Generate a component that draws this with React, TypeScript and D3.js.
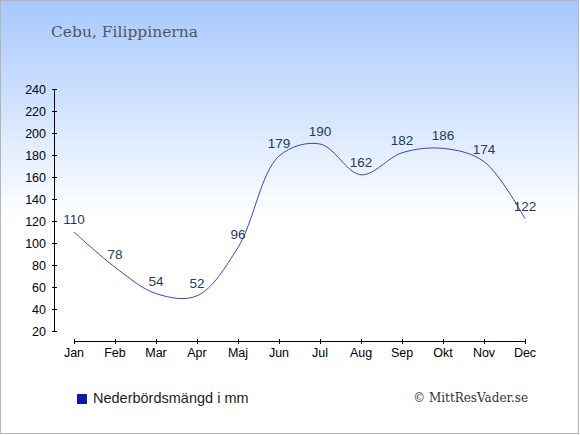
import React from "react";
import * as d3 from "d3";

const months = ["Jan", "Feb", "Mar", "Apr", "Maj", "Jun", "Jul", "Aug", "Sep", "Okt", "Nov", "Dec"];
const rainfall = [110, 78, 54, 52, 96, 179, 190, 162, 182, 186, 174, 122];
const yTicks = [20, 40, 60, 80, 100, 120, 140, 160, 180, 200, 220, 240];
const title = "Cebu, Filippinerna";
const legendLabel = "Nederbördsmängd i mm";
const credit = "© MittResVader.se";

const W = 580;
const H = 435;

export default function App() {
  const x = d3.scalePoint<string>().domain(months).range([74, 525]);
  const y = d3.scaleLinear().domain([20, 240]).range([331, 89]);
  const line = d3
    .line<number>()
    .x((_, i) => x(months[i]) as number)
    .y((d) => y(d))
    .curve(d3.curveCatmullRom.alpha(0.5));
  const sans = "'Liberation Sans', Arial, sans-serif";
  const serif = "'DejaVu Serif', 'Liberation Serif', serif";
  return (
    <div>
      <style>{`body{margin:0}`}</style>
      <svg width={W} height={H} style={{ display: "block" }}>
        <defs>
          <linearGradient id="bg" x1="0" y1="0" x2="0" y2="1">
            <stop offset="0" stopColor="#a6c8ff" />
            <stop offset="0.5" stopColor="#ffffff" />
            <stop offset="1" stopColor="#ffffff" />
          </linearGradient>
        </defs>
        <rect x={0.5} y={0.5} width={W - 2} height={H - 2} fill="url(#bg)" stroke="#b4b4b4" />
        <text x={51} y={37} fontFamily={serif} fontSize={15.5} fill="#555">
          {title}
        </text>
        {/* y axis */}
        <line x1={54.5} x2={54.5} y1={y(240)} y2={y(20)} stroke="#000" />
        {yTicks.map((t) => (
          <g key={t}>
            <line x1={52} x2={57} y1={Math.round(y(t)) + 0.5} y2={Math.round(y(t)) + 0.5} stroke="#000" />
            <text x={46} y={y(t) + 4.5} textAnchor="end" fontFamily={sans} fontSize={12.5} fill="#000">
              {t}
            </text>
          </g>
        ))}
        {/* x axis */}
        <line x1={x("Jan")} x2={x("Dec")} y1={341.5} y2={341.5} stroke="#000" />
        {months.map((m) => (
          <g key={m}>
            <line x1={(x(m) as number) + 0.5} x2={(x(m) as number) + 0.5} y1={339} y2={344} stroke="#000" />
            <text x={x(m)} y={357} textAnchor="middle" fontFamily={sans} fontSize={12.5} fill="#000">
              {m}
            </text>
          </g>
        ))}
        <path d={line(rainfall) || ""} fill="none" stroke="#3a44c8" strokeWidth={1} />
        {rainfall.map((v, i) => (
          <text
            key={i}
            x={x(months[i])}
            y={y(v) - 8}
            textAnchor="middle"
            fontFamily={sans}
            fontSize={13.5}
            fill="#233a5e"
          >
            {v}
          </text>
        ))}
        <rect x={77} y={394} width={10} height={10} fill="#0a1aa8" />
        <text x={93} y={403} fontFamily={sans} fontSize={14.5} fill="#222">
          {legendLabel}
        </text>
        <text x={528} y={402} textAnchor="end" fontFamily={serif} fontSize={12} fill="#333">
          {credit}
        </text>
      </svg>
    </div>
  );
}
